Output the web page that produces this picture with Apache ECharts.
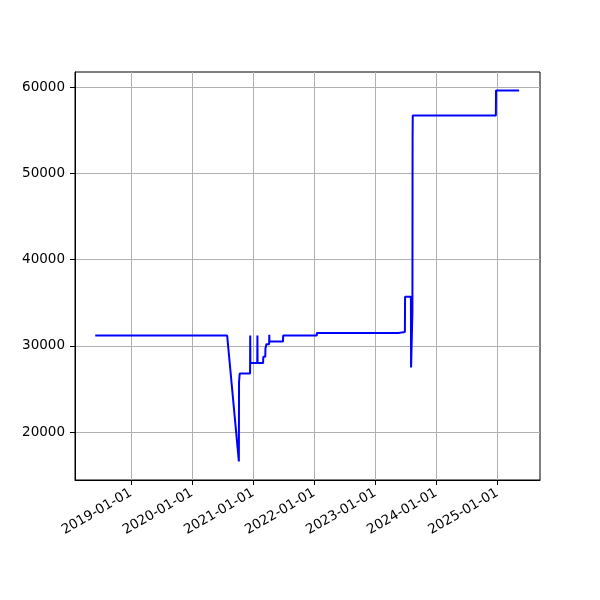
<!DOCTYPE html>
<html>
<head>
<meta charset="utf-8">
<script src="https://cdn.jsdelivr.net/npm/echarts@6/dist/echarts.min.js"></script>
<style>html,body{margin:0;padding:0;background:#fff;}#c{width:600px;height:600px;}</style>
</head>
<body>
<div id="c"></div>
<script>
const dates = [
  '2018-06-02','2020-07-30','2020-10-08','2020-10-09','2020-10-13',
  '2020-12-14','2020-12-15','2020-12-16',
  '2021-01-26','2021-01-27','2021-01-28',
  '2021-03-02','2021-03-03','2021-03-15','2021-03-16','2021-03-21','2021-03-22',
  '2021-04-07','2021-04-08','2021-04-09',
  '2021-06-29','2021-06-30',
  '2022-01-17','2022-01-18',
  '2023-05-20','2023-05-21','2023-06-28','2023-06-29',
  '2023-08-03','2023-08-04','2023-08-12','2023-08-13','2023-08-14',
  '2024-12-23','2024-12-24','2025-05-11'
];
const values = [
  31200,31200,16600,25800,26800,
  26800,31200,28000,
  28000,31200,28000,
  28000,28750,28750,29700,29700,30200,
  30200,31300,30500,
  30500,31200,
  31200,31500,
  31500,31600,31600,35700,
  35700,27500,34000,54000,56700,
  56700,59600,59600
];
const xTickLabels = ['2019-01-01','2020-01-01','2021-01-01','2022-01-01','2023-01-01','2024-01-01','2025-01-01'];
const yTickValues = [20000,30000,40000,50000,60000];

const toTs = s => Date.parse(s + 'T00:00:00Z');
const xTicks = xTickLabels.map(toTs);
const seriesData = dates.map((d, i) => [toTs(d), values[i]]);

function fmt(v) {
  const d = new Date(v);
  const p = n => String(n).padStart(2, '0');
  return d.getUTCFullYear() + '-' + p(d.getUTCMonth() + 1) + '-' + p(d.getUTCDate());
}

const chart = echarts.init(document.getElementById('c'), null, {renderer: 'canvas'});
chart.setOption({
  animation: false,
  backgroundColor: '#ffffff',
  textStyle: {fontFamily: 'DejaVu Sans'},
  grid: {left: 75, top: 72, right: 60, bottom: 120, show: true, borderColor: '#000', borderWidth: 1, backgroundColor: 'transparent'},
  xAxis: {
    type: 'value',
    min: toTs('2018-02-01'),
    max: toTs('2025-09-13'),
    axisLine: {show: true, onZero: false, lineStyle: {color: '#000', width: 1}},
    axisTick: {show: true, length: 5, lineStyle: {color: '#000', width: 1}, customValues: xTicks},
    axisLabel: {customValues: xTicks, rotate: 30, margin: 12, color: '#000', fontSize: 13.5, fontFamily: 'DejaVu Sans', formatter: v => fmt(v)},
    splitLine: {show: true, lineStyle: {color: '#b0b0b0', width: 1}}
  },
  yAxis: {
    type: 'value',
    min: 14450,
    max: 61750,
    axisLine: {show: true, onZero: false, lineStyle: {color: '#000', width: 1}},
    axisTick: {show: true, length: 5, lineStyle: {color: '#000', width: 1}, customValues: yTickValues},
    axisLabel: {customValues: yTickValues, margin: 10, color: '#000', fontSize: 13.5, fontFamily: 'DejaVu Sans', formatter: v => String(v)},
    splitLine: {show: true, lineStyle: {color: '#b0b0b0', width: 1}}
  },
  series: [{
    type: 'line',
    data: seriesData,
    showSymbol: false,
    symbol: 'none',
    lineStyle: {color: '#0000ff', width: 2},
    itemStyle: {color: '#0000ff'}
  }]
});
</script>
</body>
</html>
